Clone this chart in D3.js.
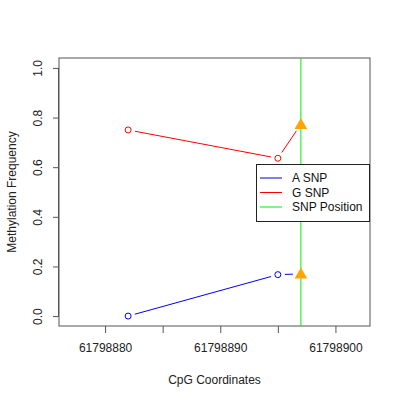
<!DOCTYPE html>
<html><head><meta charset="utf-8">
<script src="https://cdn.jsdelivr.net/npm/d3@7"></script>
<style>body{margin:0;background:#fff}</style>
</head><body>
<script>
const aSnpX = [61798882, 61798895];
const aSnpY = [0.0, 0.167];
const gSnpX = [61798882, 61798895];
const gSnpY = [0.75, 0.636];
const snpPos = 61798897;
const aSnpAtSnp = 0.17;
const gSnpAtSnp = 0.773;
const xTicks = [61798880, 61798885, 61798890, 61798895, 61798900];
const xTickLabels = ["61798880", "", "61798890", "", "61798900"];
const yTicks = [0, 0.2, 0.4, 0.6, 0.8, 1.0];
const legendLabels = ["A SNP", "G SNP", "SNP Position"];
const legendColors = ["#0000cc", "#ff0000", "#00ee00"];

const W = 400, H = 400;
const L = 59, R = 370, T = 58, B = 326;
const FS = 12;
const svg = d3.select("body").append("svg").attr("width", W).attr("height", H)
  .style("font-family", "'Liberation Sans', Arial, sans-serif");
const x = d3.scaleLinear().domain([61798876, 61798903]).range([L, R]);
const y = d3.scaleLinear().domain([-0.04, 1.04]).range([B, T]);

// box
svg.append("rect").attr("x", L).attr("y", T).attr("width", R - L).attr("height", B - T)
  .attr("fill", "none").attr("stroke", "#555").attr("stroke-width", 1);

// y axis
const ya = svg.append("g").attr("transform", `translate(${L},0)`)
  .call(d3.axisLeft(y).tickValues(yTicks).tickFormat(d3.format(".1f")).tickSize(6).tickPadding(4));
ya.select(".domain").attr("d", `M-0.5,${y(0)}V${y(1)}`).attr("stroke", "#555");
ya.selectAll(".tick line").attr("stroke", "#555");
ya.selectAll(".tick text").attr("font-size", FS).attr("fill", "#222")
  .attr("transform", `rotate(-90,-21,0)`)
  .attr("x", -21).attr("y", 0).attr("dy", "0.35em").attr("text-anchor", "middle");

// x axis
const xa = svg.append("g").attr("transform", `translate(0,${B})`)
  .call(d3.axisBottom(x).tickValues(xTicks).tickFormat((d, i) => xTickLabels[i]).tickSize(7).tickPadding(10));
xa.select(".domain").remove();
xa.selectAll(".tick line").attr("stroke", "#555");
xa.selectAll(".tick text").attr("font-size", FS).attr("fill", "#222");

// axis titles
svg.append("text").attr("x", (L + R) / 2).attr("y", 384).attr("text-anchor", "middle")
  .attr("font-size", FS).attr("fill", "#222").text("CpG Coordinates");
svg.append("text").attr("transform", `translate(16,${(T + B) / 2}) rotate(-90)`)
  .attr("text-anchor", "middle").attr("font-size", FS).attr("fill", "#222").text("Methylation Frequency");

// SNP position line
svg.append("line").attr("x1", x(snpPos)).attr("x2", x(snpPos)).attr("y1", T).attr("y2", B)
  .attr("stroke", "#00ee00").attr("stroke-width", 1);

function seg(x1, y1, x2, y2, color, gap) {
  const px1 = x(x1), py1 = y(y1), px2 = x(x2), py2 = y(y2);
  const dx = px2 - px1, dy = py2 - py1, len = Math.hypot(dx, dy);
  const ux = dx / len, uy = dy / len;
  svg.append("line").attr("x1", px1 + ux * gap[0]).attr("y1", py1 + uy * gap[0])
    .attr("x2", px2 - ux * gap[1]).attr("y2", py2 - uy * gap[1])
    .attr("stroke", color).attr("stroke-width", 1);
}
function series(xs, ys, ySnp, color) {
  for (let i = 0; i < xs.length - 1; i++) seg(xs[i], ys[i], xs[i + 1], ys[i + 1], color, [7, 7]);
  seg(xs[xs.length - 1], ys[ys.length - 1], snpPos, ySnp, color, [7, 8]);
  xs.forEach((d, i) => {
    svg.append("circle").attr("cx", x(d)).attr("cy", y(ys[i])).attr("r", 3)
      .attr("fill", "none").attr("stroke", color).attr("stroke-width", 1);
  });
  svg.append("path").attr("d", d3.symbol().type(d3.symbolTriangle).size(70)())
    .attr("transform", `translate(${x(snpPos)},${y(ySnp) + 1})`).attr("fill", "#ffa500");
}
series(aSnpX, aSnpY, aSnpAtSnp, "#0000ff");
series(gSnpX, gSnpY, gSnpAtSnp, "#ff0000");

// legend
const lg = svg.append("g");
lg.append("rect").attr("x", 256.5).attr("y", 164.5).attr("width", 113).attr("height", 57)
  .attr("fill", "#fff").attr("stroke", "#222").attr("stroke-width", 1);
legendLabels.forEach((t, i) => {
  const yy = 178 + i * 14.5;
  lg.append("line").attr("x1", 260).attr("x2", 282).attr("y1", yy).attr("y2", yy)
    .attr("stroke", legendColors[i]).attr("stroke-width", 1);
  lg.append("text").attr("x", 292).attr("y", yy).attr("dy", "0.35em").attr("font-size", FS)
    .attr("fill", "#111").text(t);
});
</script>
</body></html>
